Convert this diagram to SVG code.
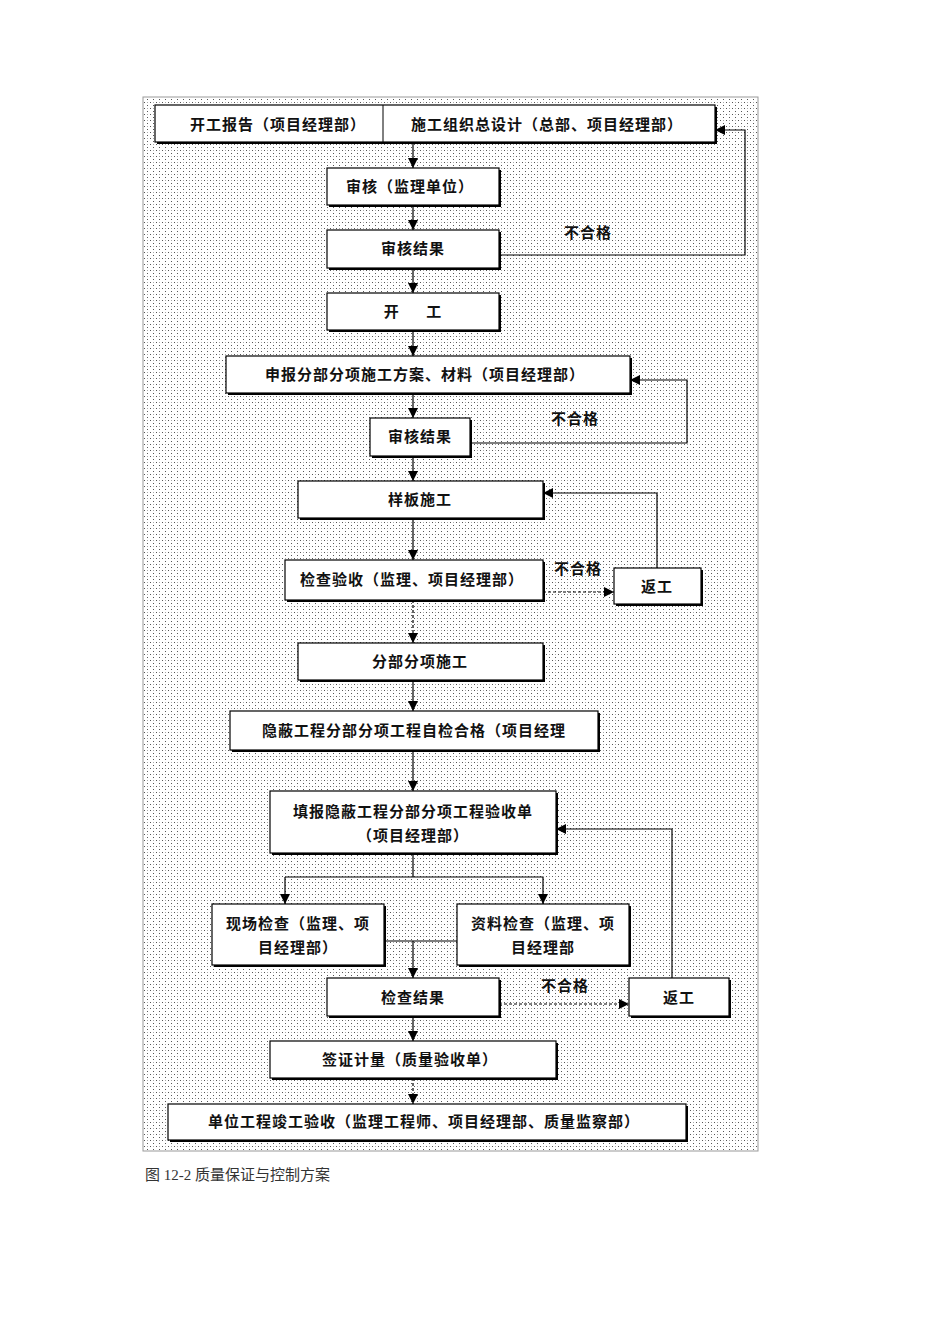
<svg xmlns="http://www.w3.org/2000/svg" width="950" height="1344" viewBox="0 0 950 1344">
<defs>
<pattern id="dots" width="6" height="6" patternUnits="userSpaceOnUse">
<rect width="6" height="6" fill="#fff"/>
<rect x="0" y="0" width="1" height="1" fill="#555"/>
<rect x="3" y="3" width="1" height="1" fill="#555"/>
<rect x="3" y="0" width="1" height="1" fill="#aaa"/>
</pattern>
<marker id="ar" viewBox="0 0 10 10" refX="10" refY="5" markerWidth="11" markerHeight="10" markerUnits="userSpaceOnUse" orient="auto"><path d="M0,0L10,5L0,10z" fill="#000"/></marker>
</defs>
<style>
.b{fill:#fff;stroke:#000;stroke-width:1.2}
.s{fill:#000}
.t{font-family:"Noto Sans CJK SC","Liberation Sans",sans-serif;font-size:15px;font-weight:bold;fill:#111;text-anchor:middle;letter-spacing:1px}
.c{fill:none;stroke:#000;stroke-width:1.2}
</style>
<rect width="950" height="1344" fill="#fff"/>
<rect x="143" y="97" width="615" height="1054" fill="url(#dots)" stroke="#999"/>
<g id="connectors">
<path class="c" d="M413,142V168" marker-end="url(#ar)"/>
<path class="c" d="M413,205V230" marker-end="url(#ar)"/>
<path class="c" d="M499,255H745V130H715" marker-end="url(#ar)"/>
<path class="c" d="M413,268V293" marker-end="url(#ar)"/>
<path class="c" d="M413,330V356" marker-end="url(#ar)"/>
<path class="c" d="M413,393V418" marker-end="url(#ar)"/>
<path class="c" d="M470,443H687V380H630" marker-end="url(#ar)"/>
<path class="c" d="M413,456V481" marker-end="url(#ar)"/>
<path class="c" d="M413,518V560" marker-end="url(#ar)"/>
<path class="c" d="M543,592H614" stroke-dasharray="3,2" marker-end="url(#ar)"/>
<path class="c" d="M657,568V493H543" marker-end="url(#ar)"/>
<path class="c" d="M413,600V643" stroke-dasharray="3,2" marker-end="url(#ar)"/>
<path class="c" d="M413,680V711" marker-end="url(#ar)"/>
<path class="c" d="M413,750V791" marker-end="url(#ar)"/>
<path class="c" d="M413,853V877"/>
<path class="c" d="M285,877H543"/>
<path class="c" d="M285,877V904" marker-end="url(#ar)"/>
<path class="c" d="M543,877V904" marker-end="url(#ar)"/>
<path class="c" d="M384,941H457"/>
<path class="c" d="M413,941V978" marker-end="url(#ar)"/>
<path class="c" d="M499,1004H629" stroke-dasharray="3,2" marker-end="url(#ar)"/>
<path class="c" d="M672,978V829H556" marker-end="url(#ar)"/>
<path class="c" d="M413,1016V1041" marker-end="url(#ar)"/>
<path class="c" d="M413,1078V1104" stroke-dasharray="3,2" marker-end="url(#ar)"/>
<text class="t" x="588" y="238">不合格</text>
<text class="t" x="575" y="424">不合格</text>
<text class="t" x="578" y="574">不合格</text>
<text class="t" x="565" y="991">不合格</text>
</g>
<g id="n1"><rect class="s" x="157" y="107" width="560" height="37"/><rect class="b" x="155" y="105" width="560" height="37"/><line x1="383" y1="105" x2="383" y2="142" stroke="#000"/><text class="t" x="278" y="130">开工报告（项目经理部）</text><text class="t" x="547" y="130">施工组织总设计（总部、项目经理部）</text></g>
<g id="n2"><rect class="s" x="329" y="170" width="172" height="37"/><rect class="b" x="327" y="168" width="172" height="37"/><text class="t" x="410" y="192">审核（监理单位）</text></g>
<g id="n3"><rect class="s" x="329" y="232" width="172" height="38"/><rect class="b" x="327" y="230" width="172" height="38"/><text class="t" x="413" y="254">审核结果</text></g>
<g id="n4"><rect class="s" x="329" y="295" width="172" height="37"/><rect class="b" x="327" y="293" width="172" height="37"/><text class="t" x="413" y="317" xml:space="preserve">开      工</text></g>
<g id="n5"><rect class="s" x="228" y="358" width="404" height="37"/><rect class="b" x="226" y="356" width="404" height="37"/><text class="t" x="425" y="380">申报分部分项施工方案、材料（项目经理部）</text></g>
<g id="n6"><rect class="s" x="372" y="420" width="100" height="38"/><rect class="b" x="370" y="418" width="100" height="38"/><text class="t" x="420" y="442">审核结果</text></g>
<g id="n7"><rect class="s" x="300" y="483" width="245" height="37"/><rect class="b" x="298" y="481" width="245" height="37"/><text class="t" x="420" y="505">样板施工</text></g>
<g id="n8"><rect class="s" x="287" y="562" width="258" height="40"/><rect class="b" x="285" y="560" width="258" height="40"/><text class="t" x="412" y="585">检查验收（监理、项目经理部）</text></g>
<g id="n9"><rect class="s" x="616" y="570" width="87" height="36"/><rect class="b" x="614" y="568" width="87" height="36"/><text class="t" x="657" y="592">返工</text></g>
<g id="n10"><rect class="s" x="300" y="645" width="245" height="37"/><rect class="b" x="298" y="643" width="245" height="37"/><text class="t" x="420" y="667">分部分项施工</text></g>
<g id="n11"><rect class="s" x="232" y="713" width="368" height="39"/><rect class="b" x="230" y="711" width="368" height="39"/><text class="t" x="414" y="736">隐蔽工程分部分项工程自检合格（项目经理</text></g>
<g id="n12"><rect class="s" x="272" y="793" width="286" height="62"/><rect class="b" x="270" y="791" width="286" height="62"/><text class="t" x="413" y="817">填报隐蔽工程分部分项工程验收单</text><text class="t" x="413" y="841">（项目经理部）</text></g>
<g id="n13"><rect class="s" x="214" y="906" width="172" height="61"/><rect class="b" x="212" y="904" width="172" height="61"/><text class="t" x="298" y="929">现场检查（监理、项</text><text class="t" x="298" y="953">目经理部）</text></g>
<g id="n14"><rect class="s" x="459" y="906" width="172" height="61"/><rect class="b" x="457" y="904" width="172" height="61"/><text class="t" x="543" y="929">资料检查（监理、项</text><text class="t" x="543" y="953">目经理部</text></g>
<g id="n15"><rect class="s" x="329" y="980" width="172" height="38"/><rect class="b" x="327" y="978" width="172" height="38"/><text class="t" x="413" y="1003">检查结果</text></g>
<g id="n16"><rect class="s" x="631" y="980" width="100" height="38"/><rect class="b" x="629" y="978" width="100" height="38"/><text class="t" x="679" y="1003">返工</text></g>
<g id="n17"><rect class="s" x="272" y="1043" width="286" height="37"/><rect class="b" x="270" y="1041" width="286" height="37"/><text class="t" x="410" y="1065">签证计量（质量验收单）</text></g>
<g id="n18"><rect class="s" x="170" y="1106" width="518" height="36"/><rect class="b" x="168" y="1104" width="518" height="36"/><text class="t" x="424" y="1127">单位工程竣工验收（监理工程师、项目经理部、质量监察部）</text></g>
<text x="145" y="1180" font-family="Liberation Serif,'Noto Sans CJK SC',serif" font-size="15" fill="#333">图 12-2 质量保证与控制方案</text>
</svg>
